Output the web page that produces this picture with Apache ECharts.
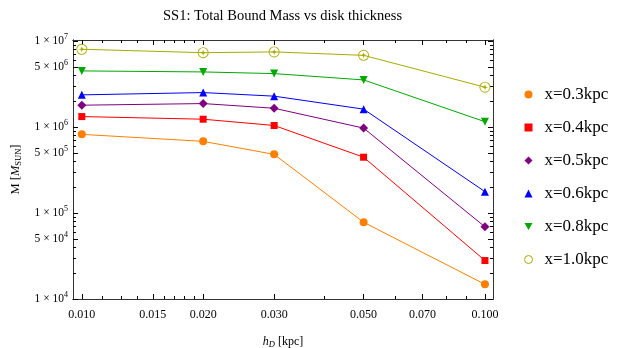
<!DOCTYPE html>
<html>
<head>
<meta charset="utf-8">
<script src="https://cdn.jsdelivr.net/npm/echarts@6/dist/echarts.min.js"></script>
<style>
  html, body { margin: 0; padding: 0; background: #fff; }
  #chart { width: 622px; height: 348px; }
</style>
</head>
<body>
<div id="chart"></div>
<script>
// Disk scale height h_D [kpc]
const hValues = [0.01, 0.02, 0.03, 0.05, 0.1];

// Total bound mass [M_SUN] for each radius x
const mass03 = [8.2e5, 6.8e5, 4.8e5, 7.8e4, 1.48e4];
const mass04 = [1.32e6, 1.23e6, 1.04e6, 4.45e5, 2.8e4];
const mass05 = [1.79e6, 1.87e6, 1.65e6, 9.7e5, 6.9e4];
const mass06 = [2.36e6, 2.51e6, 2.28e6, 1.61e6, 1.77e5];
const mass08 = [4.48e6, 4.36e6, 4.17e6, 3.52e6, 1.15e6];
const mass10 = [8.0e6, 7.3e6, 7.45e6, 6.8e6, 2.9e6];

const seriesNames = ['x=0.3kpc', 'x=0.4kpc', 'x=0.5kpc', 'x=0.6kpc', 'x=0.8kpc', 'x=1.0kpc'];

// Tick positions
const xMajorTicks = [0.01, 0.015, 0.02, 0.03, 0.05, 0.07, 0.1];
const xMinorTicks = [0.01125, 0.0125, 0.01375, 0.016, 0.017, 0.018, 0.019, 0.04, 0.06, 0.08, 0.09];
const yMajorTicks = [1e4, 5e4, 1e5, 5e5, 1e6, 5e6, 1e7];
const yMinorTicks = [2e4, 3e4, 4e4, 6e4, 7e4, 8e4, 9e4,
                     2e5, 3e5, 4e5, 6e5, 7e5, 8e5, 9e5,
                     2e6, 3e6, 4e6, 6e6, 7e6, 8e6, 9e6];

const FONT = 'Liberation Serif';
const FRAME = '#333';

const xMin = 0.00951, xMax = 0.1047;
const yMin = 1e4, yMax = 1.025e7;

function pairs(ys) { return hValues.map((h, i) => [h, ys[i]]); }

function sciLabel(v) {
  const e = Math.floor(Math.log10(v) + 1e-9);
  const m = Math.round(v / Math.pow(10, e));
  return '{b|' + m + ' \u00d7 10}{sup|' + e + '}';
}

function xAxisDef(position, ticks, len, labels) {
  return {
    type: 'log', logBase: 10, min: xMin, max: xMax, position: position,
    axisLine: { show: true, onZero: false, lineStyle: { color: FRAME, width: 1 } },
    axisTick: { show: true, inside: true, length: len, customValues: ticks, lineStyle: { color: '#000', width: 1 } },
    axisLabel: labels ? {
      show: true, customValues: xMajorTicks, margin: 10,
      fontFamily: FONT, fontSize: 12, color: '#000',
      formatter: v => Number(v).toFixed(3)
    } : { show: false },
    splitLine: { show: false }, minorTick: { show: false }
  };
}

function yAxisDef(position, ticks, len, labels) {
  return {
    type: 'log', logBase: 10, min: yMin, max: yMax, position: position,
    axisLine: { show: true, onZero: false, lineStyle: { color: FRAME, width: 1 } },
    axisTick: { show: true, inside: true, length: len, customValues: ticks, lineStyle: { color: '#000', width: 1 } },
    axisLabel: labels ? {
      show: true, customValues: yMajorTicks, margin: 5,
      formatter: v => sciLabel(v),
      rich: {
        b: { fontFamily: FONT, fontSize: 11.5, color: '#000', lineHeight: 16, verticalAlign: 'middle' },
        sup: { fontFamily: FONT, fontSize: 8, color: '#000', lineHeight: 16, verticalAlign: 'top' }
      }
    } : { show: false },
    splitLine: { show: false }, minorTick: { show: false }
  };
}

const xBottom = xAxisDef('bottom', xMajorTicks, 5, true);
xBottom.name = '{i|h}{s|D}{n| [kpc]}';
xBottom.nameLocation = 'middle';
xBottom.nameGap = 35;
xBottom.nameTextStyle = {
  rich: {
    i: { fontFamily: FONT, fontSize: 12, fontStyle: 'italic', color: '#000' },
    s: { fontFamily: FONT, fontSize: 8.5, fontStyle: 'italic', color: '#000', verticalAlign: 'top', padding: [6, 0, 0, 0] },
    n: { fontFamily: FONT, fontSize: 12, color: '#000' }
  }
};

const yLeft = yAxisDef('left', yMajorTicks, 5, true);
yLeft.name = '{n|M [}{i|M}{s|SUN}{n|]}';
yLeft.nameLocation = 'middle';
yLeft.nameGap = 47;
yLeft.nameTextStyle = {
  rich: {
    n: { fontFamily: FONT, fontSize: 12.5, color: '#000' },
    i: { fontFamily: FONT, fontSize: 12.5, fontStyle: 'italic', color: '#000' },
    s: { fontFamily: FONT, fontSize: 8.5, color: '#000', verticalAlign: 'top', padding: [6, 0, 0, 0] }
  }
};

// Open ring with a small star inside
const ringStar = 'path://M0,10 A10,10 0 1,0 20,10 A10,10 0 1,0 0,10 Z ' +
  'M1.6,10 A8.4,8.4 0 1,1 18.4,10 A8.4,8.4 0 1,1 1.6,10 Z ' +
  'M10,4.5 L11.4,8.6 L15.5,10 L11.4,11.4 L10,15.5 L8.6,11.4 L4.5,10 L8.6,8.6 Z';
const downTri = 'path://M0,0 L10,0 L5,9 Z';

const styles = [
  { color: '#FF8000', symbol: 'circle', size: 8, data: mass03 },
  { color: '#FF0000', symbol: 'rect', size: 7, data: mass04 },
  { color: '#800080', symbol: 'diamond', size: 9, data: mass05 },
  { color: '#0000FF', symbol: 'triangle', size: 8, data: mass06 },
  { color: '#00A800', symbol: downTri, size: 8, data: mass08 },
  { color: '#AAAA00', symbol: ringStar, size: 11, data: mass10 }
];

const series = styles.map((s, i) => ({
  name: seriesNames[i], type: 'line',
  xAxisIndex: 0, yAxisIndex: 0,
  data: pairs(s.data),
  symbol: s.symbol, symbolSize: s.size,
  showAllSymbol: true,
  itemStyle: { color: s.color },
  lineStyle: { color: s.color, width: 1 },
  z: 10 + i
}));

const legendIcons = ['circle', 'rect', 'diamond', 'triangle', downTri, 'circle'];
const legendData = seriesNames.map((n, i) => {
  const d = { name: n, icon: legendIcons[i] };
  if (i === 5) d.itemStyle = { color: '#fff', borderColor: '#AAAA00', borderWidth: 1 };
  return d;
});

const chart = echarts.init(document.getElementById('chart'), null, { renderer: 'canvas' });
chart.setOption({
  animation: false,
  backgroundColor: '#fff',
  title: {
    text: 'SS1: Total Bound Mass vs disk thickness',
    left: 158, top: 4,
    textStyle: { fontFamily: FONT, fontSize: 14.5, fontWeight: 'normal', color: '#000' }
  },
  legend: {
    orient: 'vertical', left: 519, top: 81,
    itemGap: 16, itemWidth: 8, itemHeight: 8,
    data: legendData,
    textStyle: { fontFamily: FONT, fontSize: 17, color: '#000', padding: [0, 0, 0, 7] },
    selectedMode: false
  },
  grid: { left: 73, right: 129, top: 40, bottom: 49, containLabel: false, outerBoundsMode: 'none' },
  xAxis: [
    xBottom,
    xAxisDef('bottom', xMinorTicks, 3, false),
    xAxisDef('top', xMajorTicks, 5, false),
    xAxisDef('top', xMinorTicks, 3, false)
  ],
  yAxis: [
    yLeft,
    yAxisDef('left', yMinorTicks, 3, false),
    yAxisDef('right', yMajorTicks, 5, false),
    yAxisDef('right', yMinorTicks, 3, false)
  ],
  series: series
});
</script>
</body>
</html>
